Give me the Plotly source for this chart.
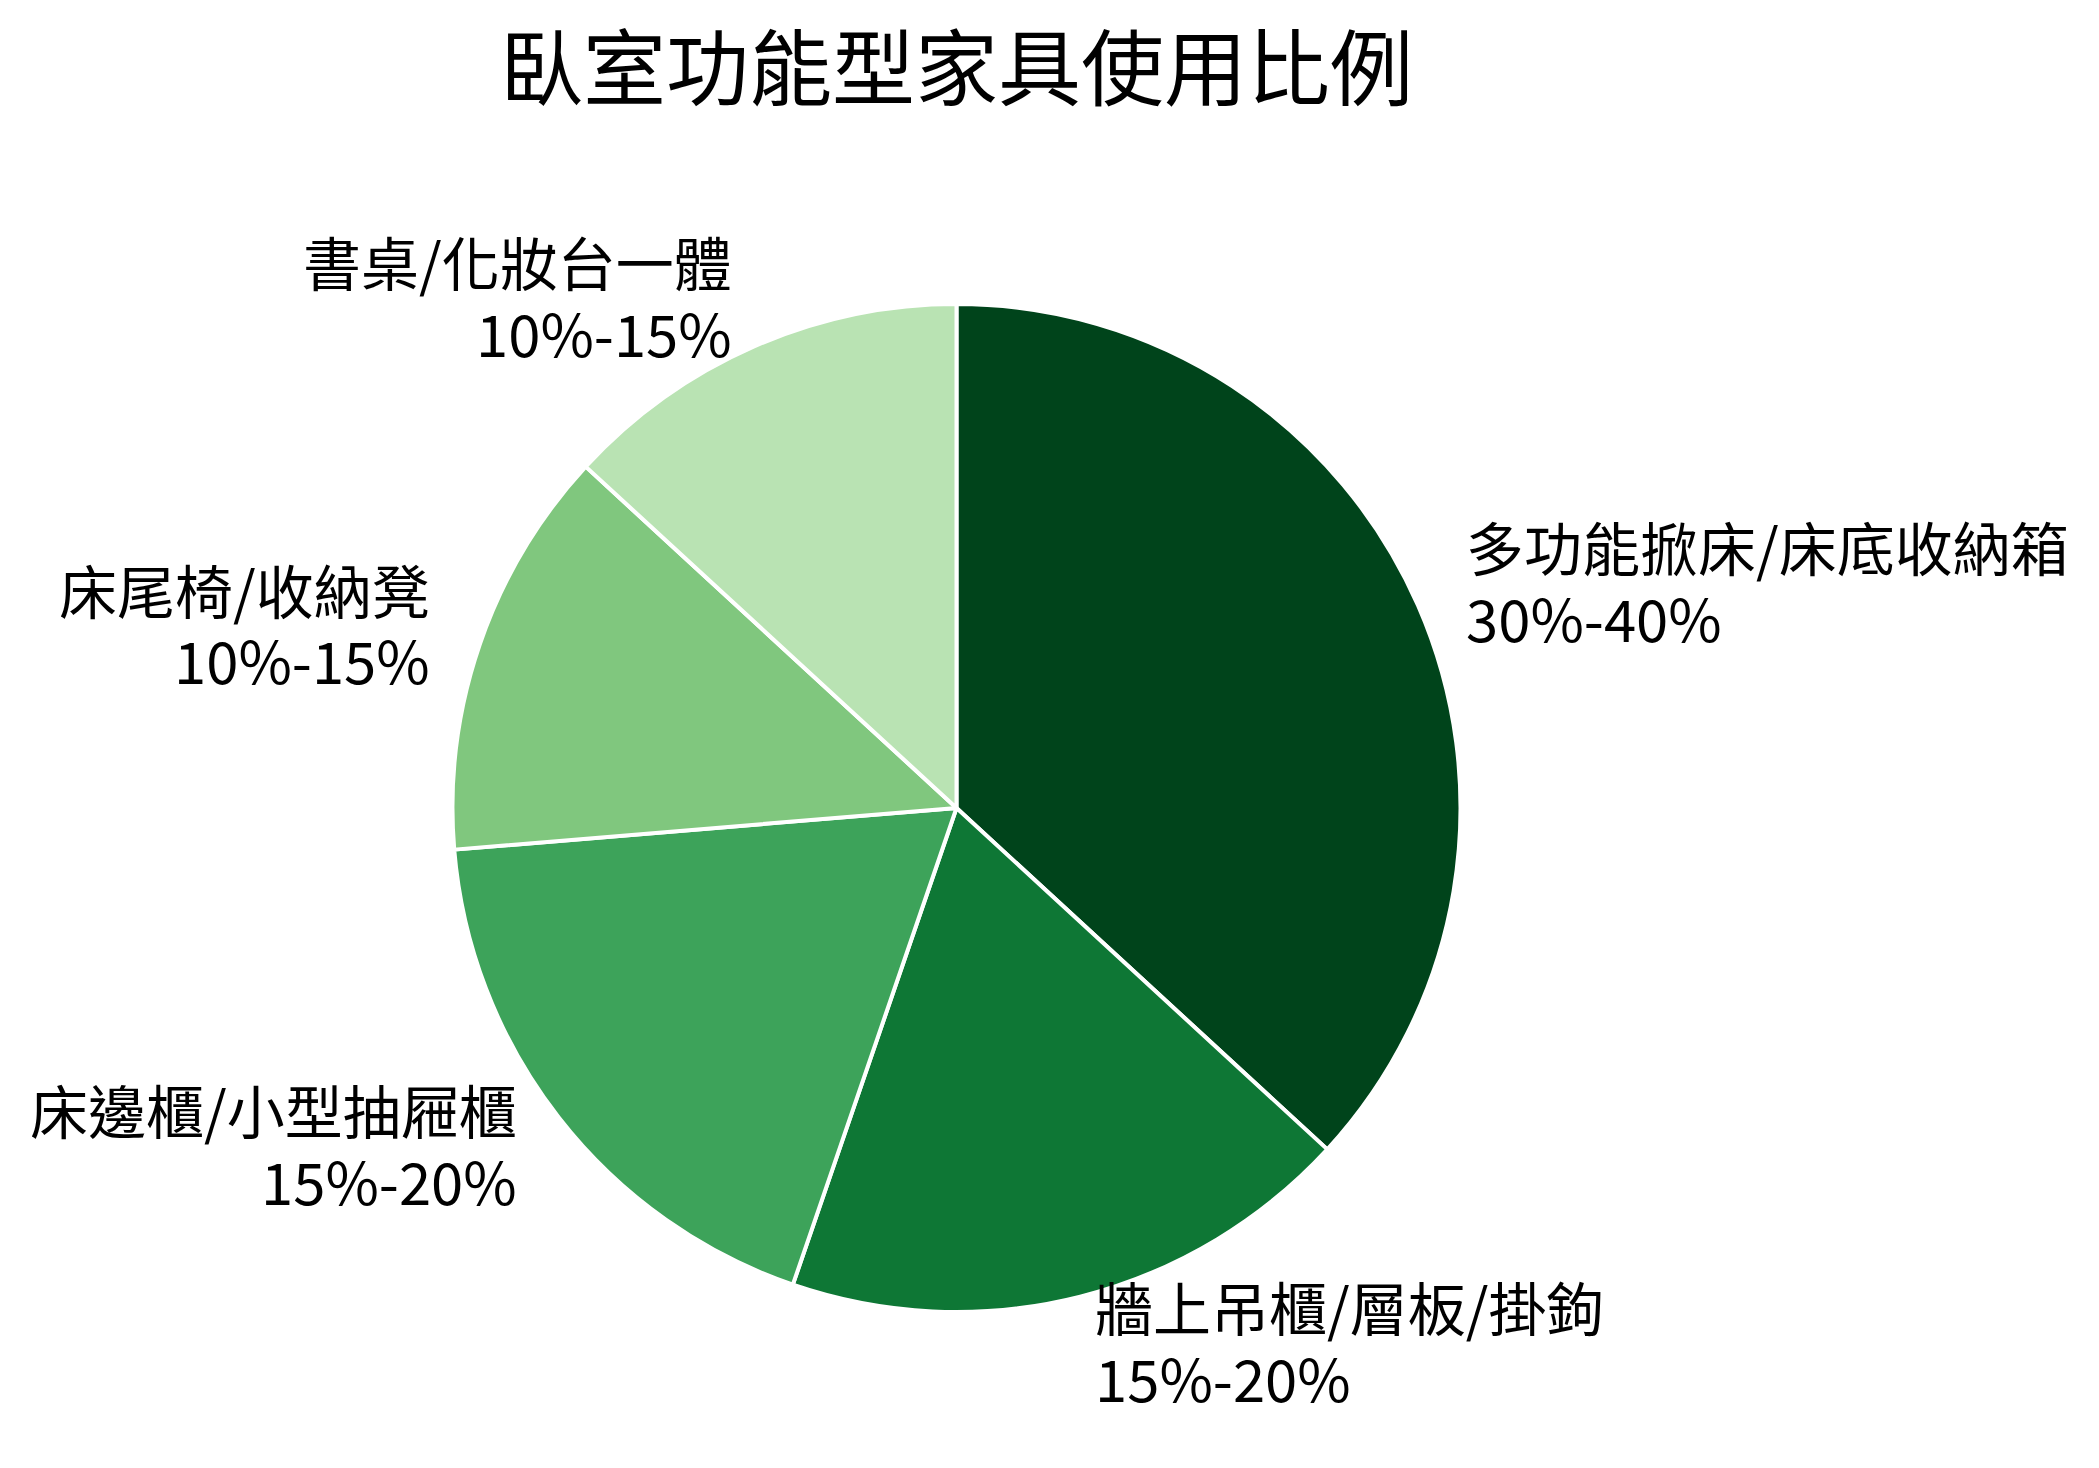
import math
import plotly.graph_objects as go

# 臥室功能型家具使用比例 (slice sizes use the midpoint of each range)
categories = [
    "多功能掀床/床底收納箱",
    "牆上吊櫃/層板/掛鉤",
    "床邊櫃/小型抽屜櫃",
    "床尾椅/收納凳",
    "書桌/化妝台一體",
]
ranges = ["30%-40%", "15%-20%", "15%-20%", "10%-15%", "10%-15%"]
values = [35, 17.5, 17.5, 12.5, 12.5]
colors = ["#00441b", "#0e7735", "#3da35a", "#80c77e", "#b9e3b3"]

FONT = "Noto Sans CJK TC, Noto Sans CJK SC, sans-serif"
W, H = 2099, 1468
M = dict(l=20, r=222, t=296, b=164)
LABEL_SIZE = 58
LABEL_DIST = 1.1  # labels sit just outside the rim, like matplotlib's labeldistance

fig = go.Figure(go.Pie(
    labels=categories,
    values=values,
    customdata=ranges,
    sort=False,
    direction="clockwise",
    rotation=0,
    marker=dict(colors=colors, line=dict(color="white", width=4)),
    textinfo="none",
    hovertemplate="%{label}<br>%{customdata}<extra></extra>",
    showlegend=False,
))

# label placement from the slice mid-angles
pw = W - M["l"] - M["r"]
ph = H - M["t"] - M["b"]
radius = min(pw, ph) / 2
total = sum(values)
cum = 0
annotations = []
for name, rng, v in zip(categories, ranges, values):
    mid = (cum + v / 2) / total * 2 * math.pi
    cum += v
    dx = math.sin(mid) * radius * LABEL_DIST
    dy = math.cos(mid) * radius * LABEL_DIST
    x = 0.5 + dx / pw
    y = 0.5 + dy / ph
    side = "left" if dx >= 0 else "right"
    for txt, shift in ((name, 0.61), (rng, -0.61)):
        annotations.append(dict(
            x=x, y=y, xref="paper", yref="paper",
            text=txt, showarrow=False,
            xanchor=side, yanchor="middle", align=side,
            yshift=shift * LABEL_SIZE + 4,
            font=dict(family=FONT, size=LABEL_SIZE, color="black"),
        ))

fig.update_layout(
    width=W,
    height=H,
    paper_bgcolor="white",
    plot_bgcolor="white",
    margin=M,
    annotations=annotations,
    title=dict(
        text="臥室功能型家具使用比例",
        font=dict(family=FONT, size=83, color="black"),
        x=0.5, xref="paper", xanchor="center",
        y=1 - 62 / H, yref="container", yanchor="middle",
    ),
)

fig.write_html("out.html")
